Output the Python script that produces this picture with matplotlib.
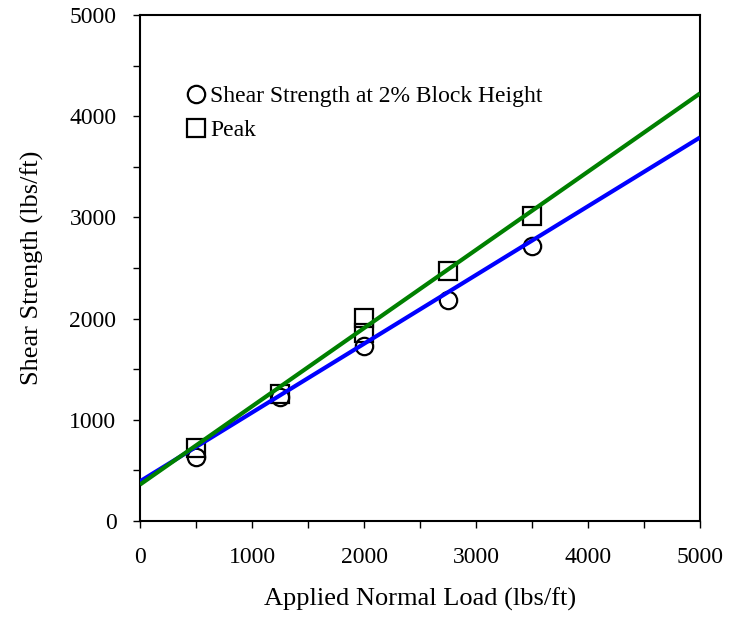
import matplotlib
matplotlib.use("Agg")
import matplotlib.pyplot as plt
from matplotlib.ticker import MultipleLocator

plt.rcParams['font.family'] = ['Liberation Serif', 'DejaVu Serif']

# Data
normal_load_circle = [500, 1250, 2000, 2750, 3500]
shear_2pct = [630, 1230, 1733, 2180, 2713]

normal_load_square = [500, 1250, 2000, 2000, 2750, 3500]
shear_peak = [723, 1257, 2010, 1862, 2475, 3010]

fit_x = [0, 5000]
fit_2pct = [392, 3790]
fit_peak = [360, 4225]

x_ticks = [0, 1000, 2000, 3000, 4000, 5000]
y_ticks = [0, 1000, 2000, 3000, 4000, 5000]

fig = plt.figure(figsize=(7.38, 6.18), dpi=100)
ax = fig.add_axes([140/738, 1-521/618, 560/738, 506/618])

ax.plot(fit_x, fit_2pct, color='#0000ff', lw=3, zorder=3, solid_capstyle='butt')
ax.plot(fit_x, fit_peak, color='#008000', lw=3, zorder=3, solid_capstyle='butt')

ax.plot(normal_load_circle, shear_2pct, linestyle='none', marker='o', ms=12.5,
        mfc='none', mec='black', mew=1.6, zorder=2, clip_on=False,
        label='Shear Strength at 2% Block Height')
ax.plot(normal_load_square, shear_peak, linestyle='none', marker='s', ms=13.5,
        mfc='none', mec='black', mew=1.6, zorder=2, clip_on=False,
        label='Peak')

ax.set_xlim(0, 5000)
ax.set_ylim(0, 5000)
ax.set_xticks(x_ticks)
ax.set_yticks(y_ticks)
ax.xaxis.set_minor_locator(MultipleLocator(500))
ax.yaxis.set_minor_locator(MultipleLocator(500))
ax.tick_params(which='both', direction='out', length=5, width=1.0, labelsize=17)
ax.tick_params(axis='y', pad=12)
ax.tick_params(axis='x', pad=14)

for s in ax.spines.values():
    s.set_linewidth(1.5)

ax.set_xlabel('Applied Normal Load (lbs/ft)', fontsize=19, labelpad=14)
ax.set_ylabel('Shear Strength (lbs/ft)', fontsize=19, labelpad=18)

leg = ax.legend(loc='upper left', bbox_to_anchor=(0.083, 0.861), frameon=False,
                fontsize=17, handlelength=0.8, handletextpad=0.2,
                labelspacing=0.55, borderaxespad=0, borderpad=0)

fig.savefig('out.png', dpi=100)
